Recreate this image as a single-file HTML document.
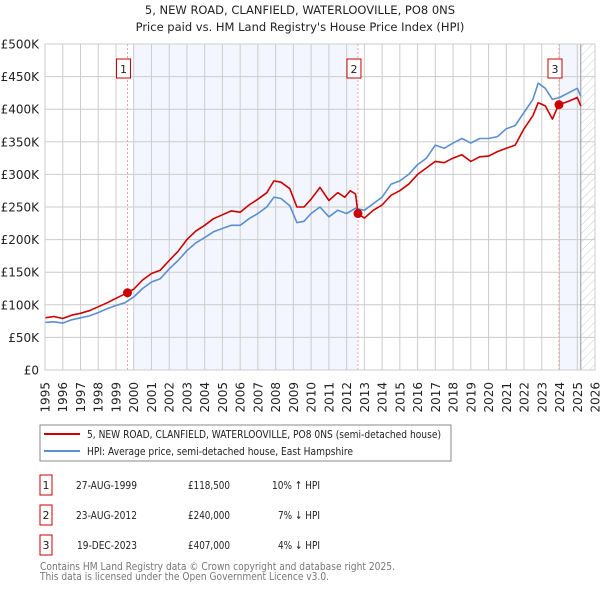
<!DOCTYPE html>
<html><head><meta charset="utf-8"><style>
body{margin:0;background:#fff;font-family:"DejaVu Sans","Liberation Sans",sans-serif;}
svg text{font-family:"DejaVu Sans","Liberation Sans",sans-serif;}
</style></head><body>
<svg id="c" width="600" height="590" viewBox="0 0 600 590" xmlns="http://www.w3.org/2000/svg">
<defs><pattern id="hatch" width="6" height="6" patternUnits="userSpaceOnUse" patternTransform="rotate(45)"><line x1="0" y1="0" x2="0" y2="6" stroke="#ccc" stroke-width="1"/></pattern></defs>
<text x="300" y="14" text-anchor="middle" font-size="11.5" fill="#222">5, NEW ROAD, CLANFIELD, WATERLOOVILLE, PO8 0NS</text>
<text x="300" y="31" text-anchor="middle" font-size="11.5" fill="#222">Price paid vs. HM Land Registry's House Price Index (HPI)</text>
<g id="plot"></g>
<rect x="40" y="425" width="411" height="36" fill="none" stroke="#888"/>
<line x1="44" y1="434" x2="80" y2="434" stroke="#cc0000" stroke-width="2"/>
<text x="87" y="438" font-size="11" textLength="354" lengthAdjust="spacingAndGlyphs" fill="#222">5, NEW ROAD, CLANFIELD, WATERLOOVILLE, PO8 0NS (semi-detached house)</text>
<line x1="44" y1="451" x2="80" y2="451" stroke="#5b8fd0" stroke-width="2"/>
<text x="87" y="455" font-size="11" textLength="266" lengthAdjust="spacingAndGlyphs" fill="#222">HPI: Average price, semi-detached house, East Hampshire</text>
<g font-size="11" fill="#222">
<rect x="40" y="475" width="12" height="20" fill="#fff" stroke="#cc0000"/><text x="46" y="489" text-anchor="middle">1</text>
<text x="76" y="489" textLength="61" lengthAdjust="spacingAndGlyphs">27-AUG-1999</text><text x="188" y="489" textLength="42" lengthAdjust="spacingAndGlyphs">£118,500</text><text x="272" y="489" textLength="48" lengthAdjust="spacingAndGlyphs">10% ↑ HPI</text>
<rect x="40" y="505" width="12" height="20" fill="#fff" stroke="#cc0000"/><text x="46" y="519" text-anchor="middle">2</text>
<text x="76" y="519" textLength="61" lengthAdjust="spacingAndGlyphs">23-AUG-2012</text><text x="188" y="519" textLength="42" lengthAdjust="spacingAndGlyphs">£240,000</text><text x="278" y="519" textLength="42" lengthAdjust="spacingAndGlyphs">7% ↓ HPI</text>
<rect x="40" y="535" width="12" height="20" fill="#fff" stroke="#cc0000"/><text x="46" y="549" text-anchor="middle">3</text>
<text x="77" y="549" textLength="60" lengthAdjust="spacingAndGlyphs">19-DEC-2023</text><text x="188" y="549" textLength="42" lengthAdjust="spacingAndGlyphs">£407,000</text><text x="278" y="549" textLength="42" lengthAdjust="spacingAndGlyphs">4% ↓ HPI</text>
</g>
<text x="40" y="570" font-size="11" textLength="355" lengthAdjust="spacingAndGlyphs" fill="#777">Contains HM Land Registry data © Crown copyright and database right 2025.</text>
<text x="40" y="580" font-size="11" textLength="289" lengthAdjust="spacingAndGlyphs" fill="#777">This data is licensed under the Open Government Licence v3.0.</text>
</svg>
<script>
const yTicks=[0,50,100,150,200,250,300,350,400,450,500];
const yTickLabels=["£0","£50K","£100K","£150K","£200K","£250K","£300K","£350K","£400K","£450K","£500K"];
const years=[1995,1996,1997,1998,1999,2000,2001,2002,2003,2004,2005,2006,2007,2008,2009,2010,2011,2012,2013,2014,2015,2016,2017,2018,2019,2020,2021,2022,2023,2024,2025,2026];
const hpiT=[1995,1995.5,1996,1996.5,1997,1997.5,1998,1998.5,1999,1999.5,2000,2000.5,2001,2001.5,2002,2002.5,2003,2003.5,2004,2004.5,2005,2005.5,2006,2006.5,2007,2007.5,2007.9,2008.3,2008.8,2009.2,2009.6,2010,2010.5,2011,2011.5,2012,2012.5,2013,2013.5,2014,2014.5,2015,2015.5,2016,2016.5,2017,2017.5,2018,2018.5,2019,2019.5,2020,2020.5,2021,2021.5,2022,2022.5,2022.8,2023.2,2023.6,2024,2024.5,2025,2025.2];
const hpiV=[73,74,72,77,80,83,88,94,99,103,112,125,135,140,155,168,183,195,203,212,217,222,222,232,240,250,265,263,252,226,228,240,250,235,245,240,248,245,255,265,285,290,300,315,325,345,340,348,355,348,355,355,358,370,375,395,415,440,432,415,418,425,432,420];
const priceT=[1995,1995.5,1996,1996.5,1997,1997.5,1998,1998.5,1999,1999.65,2000,2000.5,2001,2001.5,2002,2002.5,2003,2003.5,2004,2004.5,2005,2005.5,2006,2006.5,2007,2007.5,2007.9,2008.3,2008.8,2009.2,2009.6,2010,2010.5,2011,2011.5,2011.9,2012.2,2012.5,2012.65,2013,2013.5,2014,2014.5,2015,2015.5,2016,2016.5,2017,2017.5,2018,2018.5,2019,2019.5,2020,2020.5,2021,2021.5,2022,2022.5,2022.8,2023.2,2023.6,2023.96,2024.5,2025,2025.2];
const priceV=[80,82,79,84,87,91,97,103,110,118.5,124,138,148,153,168,182,200,213,222,232,238,244,242,253,262,272,290,288,278,250,250,262,280,260,272,265,275,270,240,233,245,253,268,275,285,300,310,320,318,325,330,320,327,328,335,340,345,370,390,410,405,385,407,412,418,405];
const saleT=[1999.65,2012.64,2023.97];
const saleV=[118.5,240,407];
const saleLabels=["1","2","3"];

const NS="http://www.w3.org/2000/svg";
const L=45,R=595,T=44,B=370,x0=1995,x1=2026,yMax=500;
function X(t){return L+(t-x0)/(x1-x0)*(R-L);}
function Y(v){return B-v/yMax*(B-T);}
const g=document.getElementById('plot');
function mk(tag,attrs){const e=document.createElementNS(NS,tag);for(const k in attrs)e.setAttribute(k,attrs[k]);g.appendChild(e);return e;}
let e;
e=mk('rect',{x:X(2000),y:T,width:X(2012.64)-X(2000),height:B-T,fill:'#f3f6fe'});


e=mk('rect',{x:X(2024),y:T,width:X(2025.2)-X(2024),height:B-T,fill:'#f3f6fe'});


e=mk('rect',{x:X(2025.2),y:T,width:R-X(2025.2),height:B-T,fill:'url(#hatch)'});


years.forEach(y=>{
 e=mk('line',{x1:X(y),x2:X(y),y1:T,y2:B,stroke:'#ccc','stroke-width':1});
 
 
 e=mk('text',{transform:`translate(${X(y)+4.5},382) rotate(-90)`,'text-anchor':'end','font-size':12,fill:'#222'});
 e.textContent=y;
 
 
});
yTicks.forEach((v,i)=>{
 e=mk('line',{x1:L,x2:R,y1:Y(v),y2:Y(v),stroke:'#ccc','stroke-width':1});
 
 
 e=mk('text',{x:L-6,y:Y(v)+4.5,'text-anchor':'end','font-size':12,fill:'#222'});
 e.textContent=yTickLabels[i];
 
 
});
e=mk('line',{x1:X(2025.2),x2:X(2025.2),y1:T,y2:B,stroke:'#999','stroke-width':1});


saleT.forEach((t,i)=>{
 e=mk('line',{x1:X(t),x2:X(t),y1:T,y2:B,stroke:'#f4a0a0','stroke-width':1,'stroke-dasharray':'2,2'});
 
 
});
function path(ts,vs,col,name){
 const d=ts.map((t,i)=>(i?'L':'M')+X(t).toFixed(1)+','+Y(vs[i]).toFixed(1)).join('');
 e=mk('path',{d:d,fill:'none',stroke:col,'stroke-width':1.6,'stroke-linejoin':'round'});
 
 
}
path(hpiT,hpiV,'#5b8fd0','hpi-line');
path(priceT,priceV,'#cc0000','price-line');
saleT.forEach((t,i)=>{
 e=mk('circle',{cx:X(t),cy:Y(saleV[i]),r:4.5,fill:'#cc0000'});
 
 
 e=mk('rect',{x:X(t)-11,y:59,width:14,height:19,fill:'#fff',stroke:'#cc0000'});
 
 
 e=mk('text',{x:X(t)-4,y:73,'text-anchor':'middle','font-size':11,fill:'#222'});
 e.textContent=saleLabels[i];
 
 
});
e=mk('rect',{x:L,y:T,width:R-L,height:B-T,fill:'none',stroke:'#ccc'});


</script>
</body></html>
